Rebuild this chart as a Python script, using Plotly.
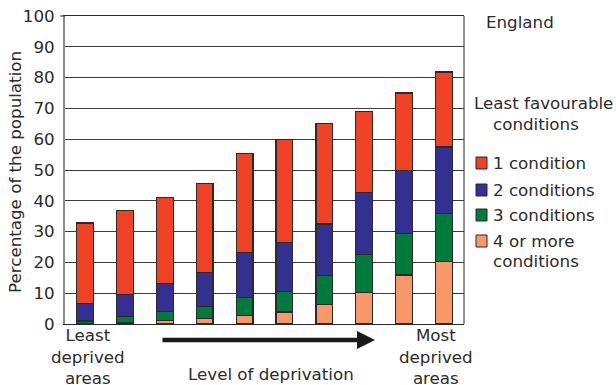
import plotly.graph_objects as go

# Deprivation deciles, least deprived (left) to most deprived (right)
deciles = ["1", "2", "3", "4", "5", "6", "7", "8", "9", "10"]

# Percentage of the population by number of least favourable conditions
one_condition = [26.2, 27.2, 28.0, 28.9, 32.1, 33.6, 32.6, 26.4, 25.1, 24.3]
two_conditions = [5.6, 7.2, 9.1, 11.1, 14.6, 15.8, 16.7, 20.2, 20.5, 21.5]
three_conditions = [0.8, 2.1, 2.9, 3.9, 5.9, 6.7, 9.4, 12.2, 13.5, 15.6]
four_plus = [0.2, 0.3, 1.1, 1.7, 2.7, 3.9, 6.4, 10.3, 15.9, 20.4]

y_ticks = [0, 10, 20, 30, 40, 50, 60, 70, 80, 90, 100]

FONT = "DejaVu Sans"
FS = 16.7
TXT = "#2b2b2b"
EDGE = "#2a2a2a"

series = [
    ("4 or more conditions", four_plus, "#F7976A"),
    ("3 conditions", three_conditions, "#007A3D"),
    ("2 conditions", two_conditions, "#333092"),
    ("1 condition", one_condition, "#EF4123"),
]

W, H = 616, 385
ML, MR, MT, MB = 65, 152, 16, 61
PW, PH = W - ML - MR, H - MT - MB


def px(xp):
    """page x pixel -> paper fraction"""
    return (xp - ML) / PW


def py(yp):
    """page y pixel -> paper fraction"""
    return (H - MB - yp) / PH


fig = go.Figure()
for name, vals, color in series:
    fig.add_trace(go.Bar(
        x=deciles, y=vals, name=name, width=0.42,
        marker=dict(color=color, line=dict(color=EDGE, width=1.2)),
        showlegend=False,
    ))

fig.update_layout(
    width=W, height=H,
    margin=dict(l=ML, r=MR, t=MT, b=MB, autoexpand=False),
    barmode="stack",
    plot_bgcolor="white", paper_bgcolor="white",
    font=dict(family=FONT, size=FS, color=TXT),
    xaxis=dict(
        range=[-0.5, 9.5], showticklabels=False, ticks="", automargin=False,
        showgrid=False, showline=True, linecolor=EDGE, linewidth=1,
        mirror=True, zeroline=False,
    ),
    yaxis=dict(
        range=[0, 100], tickvals=y_ticks, ticks="", ticklabelstandoff=5,
        automargin=False,
        showgrid=True, gridcolor="#3c3c3c", gridwidth=1,
        showline=True, linecolor="#8c8c8c", linewidth=2, zeroline=False,
        tickfont=dict(size=FS, color=TXT),
    ),
)

# right-hand frame edge and the short top tick
fig.add_shape(type="line", xref="paper", yref="paper", x0=1, x1=1, y0=0, y1=1,
              line=dict(color=EDGE, width=1))
fig.add_shape(type="line", xref="paper", yref="paper", x0=px(60), x1=0, y0=1, y1=1,
              line=dict(color=EDGE, width=1))


def label(text, xp, yp, anchor="left", angle=0):
    fig.add_annotation(text=text, xref="paper", yref="paper", x=px(xp), y=py(yp),
                       xanchor=anchor, yanchor="middle", showarrow=False,
                       textangle=angle, font=dict(size=FS, color=TXT))


# y-axis title
label("Percentage of the population", 15, 172, anchor="center", angle=-90)

label("England", 484, 22)

# legend
label("Least favourable", 472, 103)
label("conditions", 491, 124)
legend_rows = [163, 190, 215, 241]
for (name, _, color), yc in zip(reversed(series), legend_rows):
    fig.add_shape(type="rect", xref="paper", yref="paper",
                  x0=px(476), x1=px(487), y0=py(yc - 6), y1=py(yc + 6),
                  fillcolor=color, line=dict(color=EDGE, width=1))
    if name.startswith("4 or more"):
        label("4 or more", 491, yc)
        label("conditions", 491, yc + 20)
    else:
        label(name, 491, yc)

# bottom labels
label("Least<br>deprived<br>areas", 88, 356, anchor="center")
label("Most<br>deprived<br>areas", 436, 356, anchor="center")

label("Level of deprivation", 271, 374, anchor="center")
fig.add_annotation(text="", xref="x", yref="paper", x=7.27, y=py(340),
                   ax=-214, ay=0, axref="pixel", ayref="pixel",
                   showarrow=True, arrowhead=2, arrowsize=0.8, arrowwidth=4.5,
                   arrowcolor="#1a1a1a")

fig.write_html("out.html")
